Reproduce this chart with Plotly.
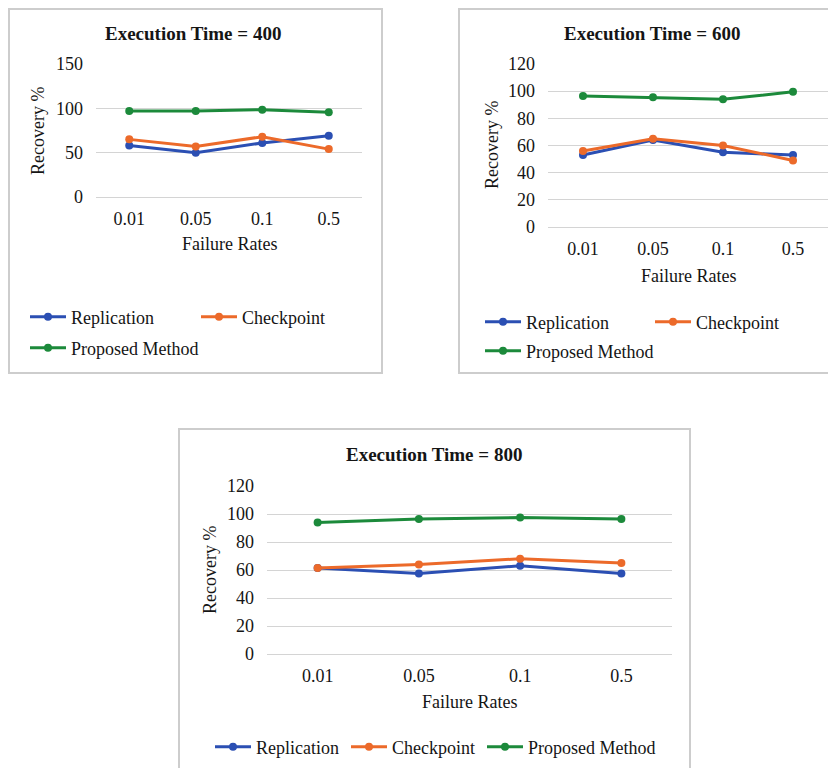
import plotly.graph_objects as go

W, H = 836, 768
OFF = 8  # page body margin offset applied by the browser

failure_rates = ["0.01", "0.05", "0.1", "0.5"]

rep_400 = [58, 50, 61, 69]
chk_400 = [65, 57, 68, 54]
prop_400 = [97, 97, 98.5, 95.5]

rep_600 = [53, 64, 55, 53]
chk_600 = [56, 65, 60, 49]
prop_600 = [96.5, 95.5, 94, 99.5]

rep_800 = [61.5, 57.5, 63, 57.5]
chk_800 = [61.5, 64, 68, 65]
prop_800 = [94, 96.5, 97.5, 96.5]

series_names = ["Replication", "Checkpoint", "Proposed Method"]
titles = ["Execution Time = 400", "Execution Time = 600", "Execution Time = 800"]
y_ranges = [(0, 150, 50), (0, 120, 20), (0, 120, 20)]

BLUE = "#2B4FB3"
ORANGE = "#EC6A2A"
GREEN = "#1C8A3B"
colors = [BLUE, ORANGE, GREEN]
FONT = "Liberation Serif"
TXT = "#151515"
GRID = "#d4d4d4"
FS = 18
IW = 36  # legend symbol width

# pixel geometry of each panel (page coordinates)
panels = [
    dict(px=(96, 362), py=(64, 197), border=(9, 382, 9, 373),
         title=(193, 33), ytitle=(38, 131), xtitle=(229, 244),
         legends=[((32, 317), [0, 1]), ((32, 348), [2])],
         lw=[120, 0, 0]),
    dict(px=(548, 828), py=(64, 227), border=(459, 835, 9, 373),
         title=(652, 33), ytitle=(492, 145), xtitle=(688, 276),
         legends=[((487, 322), [0, 1]), ((487, 351), [2])],
         lw=[119, 0, 0]),
    dict(px=(267, 672), py=(486, 654), border=(179, 690, 429, 790),
         title=(434, 454), ytitle=(210, 570), xtitle=(469, 702),
         legends=[((217, 747), [0, 1, 2])],
         lw=[85, 85, 0]),
]

data = [
    (rep_400, chk_400, prop_400),
    (rep_600, chk_600, prop_600),
    (rep_800, chk_800, prop_800),
]

def fx(p):
    return (p - OFF) / W

def fy(p):
    return 1 - (p - OFF) / H

fig = go.Figure()
layout = dict(
    width=W, height=H,
    margin=dict(l=0, r=0, t=0, b=0, autoexpand=False),
    paper_bgcolor="white", plot_bgcolor="white",
    font=dict(family=FONT, size=FS, color=TXT),
    shapes=[], annotations=[],
)

legend_count = 0
for i, (pan, vals) in enumerate(zip(panels, data)):
    xa = "xaxis" if i == 0 else f"xaxis{i+1}"
    ya = "yaxis" if i == 0 else f"yaxis{i+1}"
    xref = "x" if i == 0 else f"x{i+1}"
    yref = "y" if i == 0 else f"y{i+1}"
    lo, hi, dt = y_ranges[i]
    layout[xa] = dict(
        domain=[fx(pan["px"][0]), fx(pan["px"][1])], anchor=yref,
        type="category", range=[-0.5, 3.5], showgrid=False, zeroline=False,
        showline=False, ticks="", ticklabelstandoff=9, automargin=False,
        tickfont=dict(family=FONT, size=FS, color=TXT),
    )
    layout[ya] = dict(
        domain=[fy(pan["py"][1]), fy(pan["py"][0])], anchor=xref,
        range=[lo, hi], dtick=dt, tick0=0, showgrid=True, gridcolor=GRID,
        gridwidth=1, zeroline=True, zerolinecolor=GRID, zerolinewidth=1,
        showline=False, ticks="", ticklabelstandoff=12, automargin=False,
        tickfont=dict(family=FONT, size=FS, color=TXT),
    )
    trace_legend = {}
    for (lx, ly), idxs in pan["legends"]:
        legend_count += 1
        lname = "legend" if legend_count == 1 else f"legend{legend_count}"
        layout[lname] = dict(
            orientation="h", x=fx(lx - 7), y=fy(ly), xanchor="left",
            yanchor="middle", bgcolor="rgba(0,0,0,0)", borderwidth=0,
            font=dict(family=FONT, size=FS, color=TXT), itemwidth=IW,
            entrywidthmode="pixels", traceorder="normal",
        )
        for k in idxs:
            trace_legend[k] = lname
    for k, (name, vv) in enumerate(zip(series_names, vals)):
        tr = dict(
            x=failure_rates, y=vv, name=name, mode="lines+markers",
            line=dict(color=colors[k], width=3),
            marker=dict(color=colors[k], size=8, symbol="circle"),
            xaxis=xref, yaxis=yref, legend=trace_legend[k],
            showlegend=True,
        )
        if pan["lw"][k]:
            tr["legendwidth"] = pan["lw"][k]
        fig.add_trace(go.Scatter(**tr))
    bx0, bx1, by0, by1 = pan["border"]
    layout["shapes"].append(dict(
        type="rect", xref="paper", yref="paper",
        x0=fx(bx0), x1=fx(bx1), y0=fy(by1), y1=fy(by0),
        line=dict(color="#cdcdcd", width=2), fillcolor="rgba(0,0,0,0)",
        layer="below",
    ))
    tx, ty = pan["title"]
    layout["annotations"].append(dict(
        text=f"<b>{titles[i]}</b>", x=fx(tx), y=fy(ty), xref="paper", yref="paper",
        xanchor="center", yanchor="middle", showarrow=False,
        font=dict(family=FONT, size=19, color=TXT),
    ))
    yx, yy = pan["ytitle"]
    layout["annotations"].append(dict(
        text="Recovery %", x=fx(yx), y=fy(yy), xref="paper", yref="paper",
        xanchor="center", yanchor="middle", showarrow=False, textangle=-90,
        font=dict(family=FONT, size=FS, color=TXT),
    ))
    xx, xy = pan["xtitle"]
    layout["annotations"].append(dict(
        text="Failure Rates", x=fx(xx), y=fy(xy), xref="paper", yref="paper",
        xanchor="center", yanchor="middle", showarrow=False,
        font=dict(family=FONT, size=FS, color=TXT),
    ))

fig.update_layout(**layout)
fig.write_html("out.html")
